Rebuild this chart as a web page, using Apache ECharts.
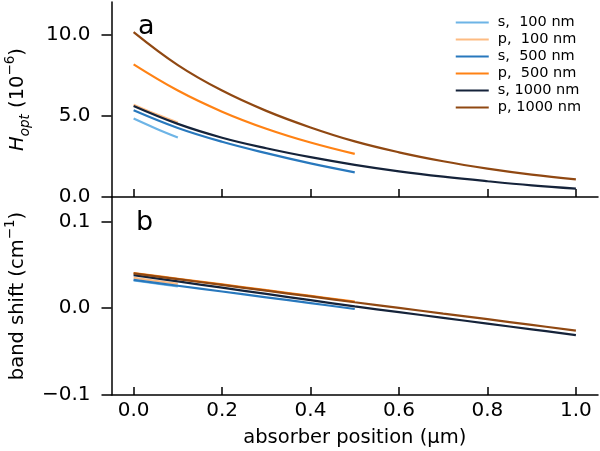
<!DOCTYPE html>
<html><head><meta charset="utf-8">
<script src="https://cdn.jsdelivr.net/npm/echarts@6/dist/echarts.min.js"></script>
<style>html,body{margin:0;padding:0;background:#fff}#c{width:600px;height:451px}</style>
</head><body><div id="c"></div>
<script>
// ---- data ----
const seriesNames = ['s,  100 nm', 'p,  100 nm', 's,  500 nm', 'p,  500 nm', 's, 1000 nm', 'p, 1000 nm'];
const colors = ['#6db4e6', '#fdbb82', '#2878bd', '#ff8214', '#15233a', '#904812'];

const x100 = [0, 0.05, 0.1];
const x500 = [0, 0.1, 0.2, 0.3, 0.4, 0.5];
const x1000 = [0, 0.1, 0.2, 0.3, 0.4, 0.5, 0.6, 0.7, 0.8, 0.9, 1.0];

// panel a : H_opt (1e-6)
const hS100 = [4.83, 4.22, 3.66];
const hP100 = [5.68, 5.10, 4.58];
const hS500 = [5.34, 4.25, 3.40, 2.70, 2.07, 1.52];
const hP500 = [8.16, 6.55, 5.25, 4.20, 3.35, 2.65];
const hS1000 = [5.60, 4.50, 3.65, 3.00, 2.45, 1.98, 1.58, 1.25, 0.97, 0.72, 0.52];
const hP1000 = [10.15, 8.12, 6.55, 5.30, 4.28, 3.42, 2.75, 2.20, 1.75, 1.38, 1.08];

// panel b : band shift (cm-1)
const bS100 = [0.032, 0.0285, 0.025];
const bP100 = [0.035, 0.0315, 0.028];
const bS500 = [0.0325, 0.0258, 0.0192, 0.0125, 0.0058, -0.001];
const bP500 = [0.0405, 0.0339, 0.0273, 0.0207, 0.0141, 0.0075];
const bS1000 = [0.038, 0.0308, 0.0236, 0.0164, 0.0092, 0.002, -0.0046, -0.0112, -0.0178, -0.0244, -0.031];
const bP1000 = [0.040, 0.0334, 0.0268, 0.0201, 0.0135, 0.0068, 0.0003, -0.0062, -0.0127, -0.0193, -0.0258];

const xTicks = [0, 0.2, 0.4, 0.6, 0.8, 1.0];
const yTicksA = [0, 5, 10];
const yTicksB = [-0.1, 0, 0.1];

const zip = (xs, ys) => xs.map((x, i) => [x, ys[i]]);
const topData = [zip(x100, hS100), zip(x100, hP100), zip(x500, hS500), zip(x500, hP500), zip(x1000, hS1000), zip(x1000, hP1000)];
const botData = [zip(x100, bS100), zip(x100, bP100), zip(x500, bS500), zip(x500, bP500), zip(x1000, bS1000), zip(x1000, bP1000)];

const FONT = 'DejaVu Sans';
const FS = 20;
const axisLine = { show: true, onZero: false, lineStyle: { color: '#000', width: 1.5 } };

function xAxis(idx, showLabels) {
  return {
    type: 'value', gridIndex: idx, min: -0.05, max: 1.05,
    axisLine: axisLine,
    splitLine: { show: false },
    axisTick: { show: true, inside: true, length: 8, customValues: xTicks, lineStyle: { color: '#000', width: 1.5 } },
    axisLabel: { show: showLabels, customValues: xTicks, margin: 6, color: '#000', fontFamily: FONT, fontSize: FS,
      formatter: v => v.toFixed(1) },
    name: showLabels ? 'absorber position (µm)' : '',
    nameLocation: 'middle', nameGap: 33,
    nameTextStyle: { color: '#000', fontFamily: FONT, fontSize: 19.5 }
  };
}

const option = {
  animation: false,
  backgroundColor: '#fff',
  grid: [
    { left: 111.5, right: 2, top: 2, height: 195, outerBoundsMode: 'none', containLabel: false },
    { left: 111.5, right: 2, top: 197, height: 198, outerBoundsMode: 'none', containLabel: false }
  ],
  legend: {
    data: seriesNames, orient: 'vertical', right: 14, top: 10,
    itemWidth: 33, itemHeight: 14, itemGap: 2,
    textStyle: { color: '#000', fontFamily: FONT, fontSize: 14.5, padding: [0, 0, 0, 4] },
    icon: 'path://M0,6 L33,6 L33,8 L0,8 Z'
  },
  xAxis: [xAxis(0, false), xAxis(1, true)],
  yAxis: [
    {
      type: 'value', gridIndex: 0, min: 0, max: 12,
      axisLine: axisLine, splitLine: { show: false },
      axisTick: { show: true, length: 10, customValues: yTicksA, lineStyle: { color: '#000', width: 1.5 } },
      axisLabel: { customValues: yTicksA, margin: 21, color: '#000', fontFamily: FONT, fontSize: FS, formatter: v => v.toFixed(1) },
      name: '{i|H}{sub|opt}{n| (10}{sup|−6}{n|)}',
      nameLocation: 'middle', nameGap: 84, nameRotate: 90,
      nameTextStyle: {
        color: '#000', fontFamily: FONT, fontSize: 19.5,
        rich: {
          i: { fontStyle: 'italic', fontSize: 19.5, fontFamily: FONT, color: '#000', verticalAlign: 'bottom', lineHeight: 24 },
          sub: { fontStyle: 'italic', fontSize: 13.5, fontFamily: FONT, color: '#000', verticalAlign: 'bottom', lineHeight: 16, padding: [0, 0, -5, 0] },
          n: { fontSize: 19.5, fontFamily: FONT, color: '#000', verticalAlign: 'bottom', lineHeight: 24 },
          sup: { fontSize: 13.5, fontFamily: FONT, color: '#000', verticalAlign: 'top', lineHeight: 16 }
        }
      }
    },
    {
      type: 'value', gridIndex: 1, min: -0.1, max: 0.128,
      axisLine: axisLine, splitLine: { show: false },
      axisTick: { show: true, length: 10, customValues: yTicksB, lineStyle: { color: '#000', width: 1.5 } },
      axisLabel: { customValues: yTicksB, margin: 21, color: '#000', fontFamily: FONT, fontSize: FS,
        formatter: v => (v < 0 ? '−' : '') + Math.abs(v).toFixed(1) },
      name: '{n|band shift (cm}{sup|−1}{n|)}',
      nameLocation: 'middle', nameGap: 84, nameRotate: 90,
      nameTextStyle: {
        color: '#000', fontFamily: FONT, fontSize: 19.5,
        rich: {
          n: { fontSize: 19.5, fontFamily: FONT, color: '#000', verticalAlign: 'bottom', lineHeight: 24 },
          sup: { fontSize: 13.5, fontFamily: FONT, color: '#000', verticalAlign: 'top', lineHeight: 16 }
        }
      }
    }
  ],
  graphic: [
    { type: 'text', left: 138, top: 13, style: { text: 'a', font: '27px "DejaVu Sans"', fill: '#000' } },
    { type: 'text', left: 136, top: 209, style: { text: 'b', font: '27px "DejaVu Sans"', fill: '#000' } }
  ],
  series: []
};

for (let k = 0; k < 6; k++) {
  option.series.push({ name: seriesNames[k], type: 'line', xAxisIndex: 0, yAxisIndex: 0, data: topData[k],
    smooth: 0.4, showSymbol: false, symbol: 'none', lineStyle: { color: colors[k], width: 2.2 }, itemStyle: { color: colors[k] } });
  option.series.push({ name: seriesNames[k], type: 'line', xAxisIndex: 1, yAxisIndex: 1, data: botData[k],
    smooth: 0.4, showSymbol: false, symbol: 'none', lineStyle: { color: colors[k], width: 2.2 }, itemStyle: { color: colors[k] } });
}

echarts.init(document.getElementById('c'), null, { renderer: 'canvas' }).setOption(option);
</script>
</body></html>
